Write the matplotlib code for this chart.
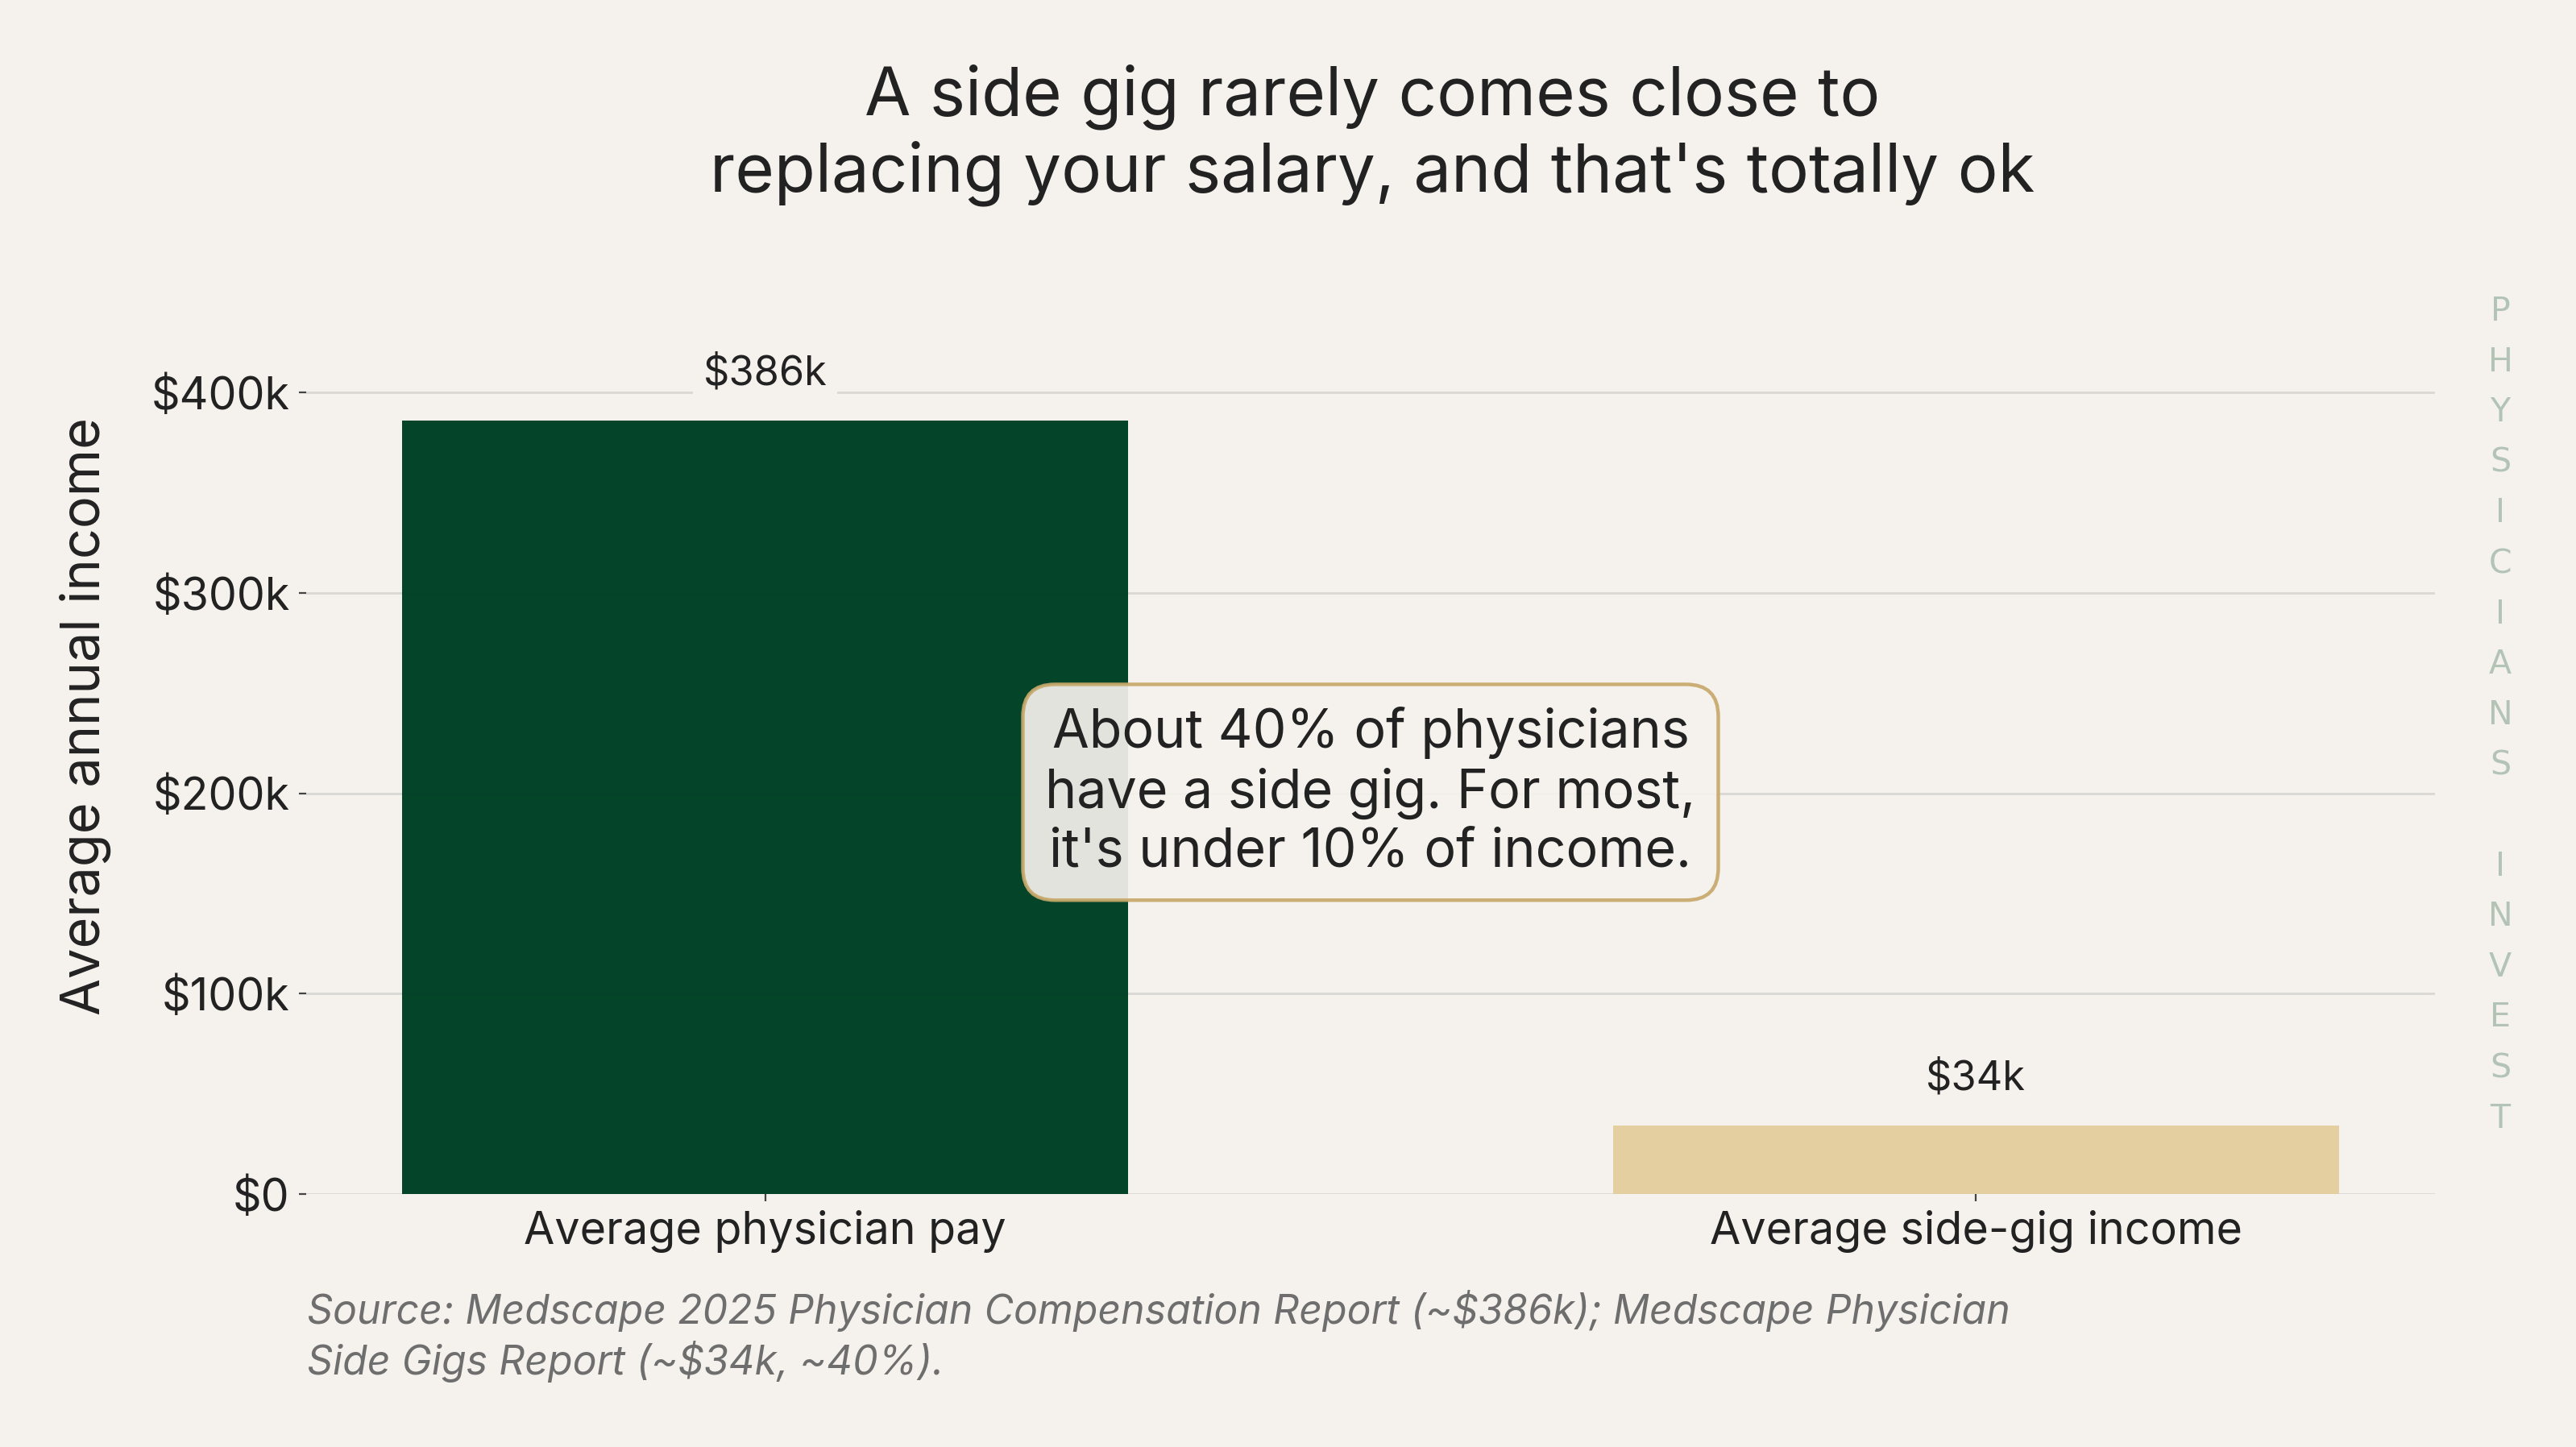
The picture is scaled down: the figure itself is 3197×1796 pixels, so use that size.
import matplotlib
matplotlib.use("Agg")
import matplotlib.pyplot as plt
from matplotlib.ticker import FuncFormatter

categories = ["Average physician pay", "Average side-gig income"]
values = [386000, 34000]
value_labels = ["$386k", "$34k"]
yticks = [0, 100000, 200000, 300000, 400000]
title = "A side gig rarely comes close to\nreplacing your salary, and that's totally ok"
annotation = "About 40% of physicians\nhave a side gig. For most,\nit's under 10% of income."
source = "Source: Medscape 2025 Physician Compensation Report (~$386k); Medscape Physician\nSide Gigs Report (~$34k, ~40%)."
watermark = "PHYSICIANS INVEST"

BG = "#f5f2ed"
TXT = "#222222"
bar_colors = ["#004126", "#e3cf9f"]

plt.rcParams["font.family"] = ["Inter", "DejaVu Sans"]

W, H = 3197, 1796
DPI = 200
fig = plt.figure(figsize=(W / DPI, H / DPI), dpi=DPI, facecolor=BG)
ax = fig.add_axes([380 / W, 1 - 1482 / H, (3022 - 380) / W, (1482 - 425) / H])
ax.set_facecolor(BG)

x = list(range(len(categories)))
bars = ax.bar(x, values, width=0.6, color=bar_colors, alpha=0.985, zorder=2)
ax.set_xlim(-0.379, 1.379)
ax.set_ylim(0, 425000)
ax.set_yticks(yticks)
ax.yaxis.set_major_formatter(FuncFormatter(lambda v, p: "$0" if v == 0 else f"${int(v/1000)}k"))
ax.set_xticks(x)
ax.set_xticklabels(categories)
ax.grid(axis="y", color="#d9d8d4", linewidth=1.0, zorder=1)
ax.set_axisbelow(True)
for s in ax.spines.values():
    s.set_visible(False)
ax.tick_params(axis="both", labelsize=20, colors="#444444", labelcolor=TXT, length=3.3, width=0.8, pad=4)

for xi, v, lab in zip(x, values, value_labels):
    ax.annotate(lab, (xi, v), xytext=(0, 21), textcoords="offset points", ha="center", va="center",
                fontsize=18.2, color=TXT, zorder=4,
                bbox=dict(boxstyle="square,pad=0.25", facecolor=BG, edgecolor="none"))

ax.text(0.5, 200500, annotation, ha="center", va="center", fontsize=23.9, color=TXT, zorder=5,
        bbox=dict(boxstyle="round,pad=0.42,rounding_size=0.6", facecolor=BG, alpha=0.92,
                  edgecolor="#c8a96b", linewidth=1.6))

ax.set_ylabel("Average annual income", fontsize=24, color=TXT)
ax.yaxis.label.set_rotation_mode("default")
ax.yaxis.label.set_va("center")
ax.yaxis.set_label_coords((106 - 380) / (3022 - 380), (1482 - 889) / (1482 - 425))

fig.text(1703 / W, 1 - 237 / H, title, ha="center", va="baseline", fontsize=30, color=TXT)

fig.text(381 / W, 1 - 1706 / H, source, ha="left", va="baseline", fontsize=18, color="#6e6e6e",
         style="italic", linespacing=1.26)

for i, ch in enumerate(watermark):
    if ch.strip():
        fig.text(3103 / W, 1 - (387 + i * 62.6) / H, ch, ha="center", va="center", fontsize=14.8,
                 color="#b3c4b7", family="DejaVu Sans")

fig.savefig("out.png", dpi=DPI, facecolor=BG)
